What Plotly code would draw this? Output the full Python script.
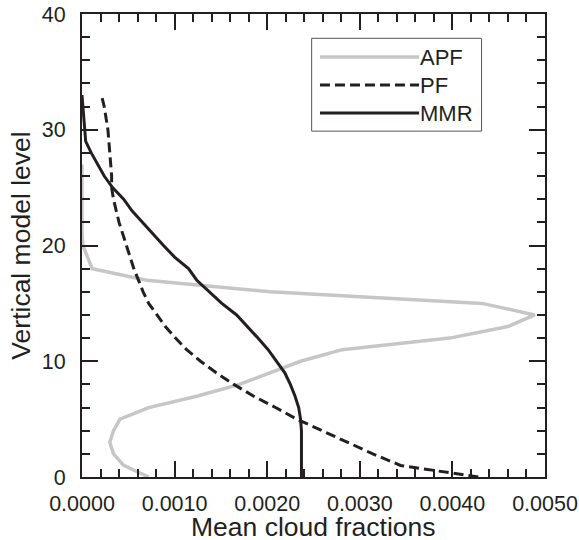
import plotly.graph_objects as go

# model levels and mean cloud fractions
apf_levels = list(range(0, 28))
apf_values = [
    0.00072, 0.00045, 0.00034, 0.00030, 0.00034, 0.00041, 0.00072, 0.00125,
    0.00170, 0.00204, 0.00236, 0.00281, 0.00397, 0.00460, 0.00489, 0.00432,
    0.00203, 0.00070, 0.00011, 0.00006, 0.00001, 0.0, 0.0, 0.0,
    0.0, 0.0, 0.0, 0.0,
]

pf_levels = list(range(0, 34))
pf_values = [
    0.00428, 0.00344, 0.00314, 0.00287, 0.00260, 0.00232, 0.00209, 0.00185,
    0.00164, 0.00145, 0.00128, 0.00113, 0.00101, 0.00090, 0.00081, 0.00072,
    0.00066, 0.00061, 0.00056, 0.00052, 0.00048, 0.00044, 0.00040, 0.00037,
    0.00034, 0.00032, 0.00032, 0.00031, 0.00030, 0.00029, 0.00028, 0.00026,
    0.00024, 0.00021,
]

mmr_levels = list(range(0, 34))
mmr_values = [
    0.00237, 0.00237, 0.00237, 0.00237, 0.00237, 0.00236, 0.00234, 0.00230,
    0.00225, 0.00219, 0.00210, 0.00201, 0.00190, 0.00178, 0.00167, 0.00151,
    0.00137, 0.00124, 0.00115, 0.00100, 0.00088, 0.00077, 0.00065, 0.00054,
    0.00045, 0.00033, 0.00024, 0.00017, 0.00010, 0.00004, 0.00003, 0.00002,
    0.00001, 0.0,
]

legend_names = ["APF", "PF", "MMR"]

FONT = "Liberation Sans, Arial, Helvetica, sans-serif"
INK = "#231f20"
GRAY = "#c6c6c6"

series = [
    (apf_values, apf_levels, dict(color=GRAY, width=3.5)),
    (pf_values, pf_levels, dict(color=INK, width=3, dash="10px,5px")),
    (mmr_values, mmr_levels, dict(color=INK, width=3)),
]

fig = go.Figure()
for (xs, ys, line), name in zip(series, legend_names):
    fig.add_trace(go.Scatter(x=xs, y=ys, mode="lines", name=name, line=line,
                             showlegend=False))

# hand-drawn legend box with long line samples, as in the original
fig.add_shape(type="rect", xref="paper", yref="paper", x0=0.496, x1=0.863,
              y0=0.747, y1=0.9475, line=dict(color="#555555", width=1),
              fillcolor="white", layer="above")
for i, ((xs, ys, line), name) in enumerate(zip(series, legend_names)):
    row_y = 0.907 - i * 0.0605
    fig.add_shape(type="line", xref="paper", yref="paper", x0=0.514, x1=0.728,
                  y0=row_y, y1=row_y, line=line, layer="above")
    fig.add_annotation(x=0.726, y=row_y, xref="paper", yref="paper", text=name,
                       showarrow=False, xanchor="left", yanchor="middle",
                       font=dict(family=FONT, size=22, color=INK))

# x title as an annotation so it can be placed exactly
fig.add_annotation(x=0.5, y=-0.109, xref="paper", yref="paper",
                   text="Mean cloud fractions", showarrow=False,
                   xanchor="center", yanchor="middle",
                   font=dict(family=FONT, size=26.5, color=INK))

axis_common = dict(
    showgrid=False,
    zeroline=False,
    showline=True,
    linecolor=INK,
    linewidth=2,
    mirror="ticks",
    ticks="inside",
    ticklen=16,
    tickwidth=1.5,
    tickcolor=INK,
    automargin=False,
    ticklabeloverflow="allow",
    tickfont=dict(family=FONT, size=21.5, color=INK),
)

fig.update_xaxes(
    range=[0, 0.005],
    dtick=0.001,
    tickformat=".4f",
    ticklabelstandoff=6,
    minor=dict(dtick=0.0002, ticks="inside", ticklen=8, tickwidth=1.5, tickcolor=INK),
    **axis_common,
)
fig.update_yaxes(
    range=[0, 40],
    dtick=10,
    ticklabelstandoff=10,
    minor=dict(dtick=2, ticks="inside", ticklen=8, tickwidth=1.5, tickcolor=INK),
    title=dict(text="Vertical model level", standoff=4,
               font=dict(family=FONT, size=26.5, color=INK)),
    **axis_common,
)

fig.update_layout(
    width=579,
    height=540,
    template="plotly_white",
    plot_bgcolor="white",
    paper_bgcolor="white",
    margin=dict(l=82, r=34, t=14, b=63),
    font=dict(family=FONT, color=INK),
)

# drop the page's default body margin so the figure fills the window
fig.write_html("out.html", config={"displayModeBar": False},
               post_script="document.body.style.margin = '0';")
